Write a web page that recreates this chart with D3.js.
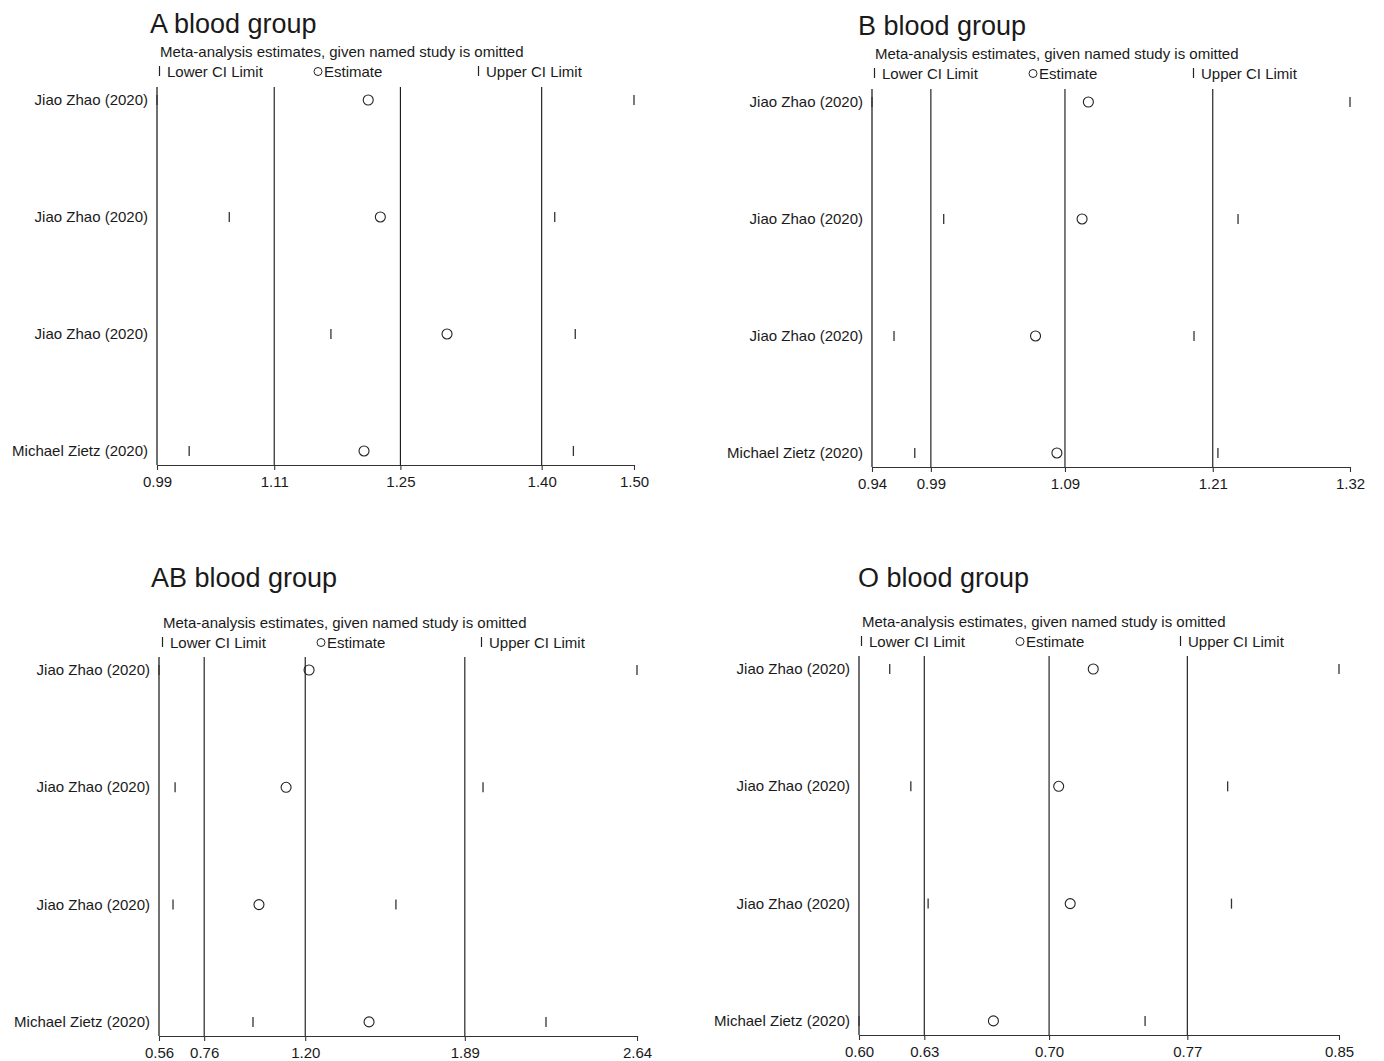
<!DOCTYPE html>
<html>
<head>
<meta charset="utf-8">
<script src="https://cdn.jsdelivr.net/npm/d3@7"></script>
<style>
  html, body { margin: 0; padding: 0; background: #fff; }
  svg { display: block; font-family: "Liberation Sans", Arial, Helvetica, sans-serif; }
</style>
</head>
<body>
<svg id="chart" width="1384" height="1061"></svg>
<script>
// ---------------- data ----------------
const studies = ["Jiao Zhao (2020)", "Jiao Zhao (2020)", "Jiao Zhao (2020)", "Michael Zietz (2020)"];
const titles = ["A blood group", "B blood group", "AB blood group", "O blood group"];
const subtitle = "Meta-analysis estimates, given named study is omitted";
const legendLabels = ["Lower CI Limit", "Estimate", "Upper CI Limit"];

const lowerA = [0.9875, 1.065, 1.174, 1.022];
const estA   = [1.214, 1.227, 1.2985, 1.2095];
const upperA = [1.499, 1.414, 1.436, 1.434];
const overallA = [1.1132, 1.2485, 1.400];
const tickLabelsA = ["0.99", "1.11", "1.25", "1.40", "1.50"];

const lowerB = [0.940, 0.997, 0.9575, 0.974];
const estB   = [1.112, 1.107, 1.070, 1.087];
const upperB = [1.320, 1.231, 1.196, 1.215];
const overallB = [0.9868, 1.0934, 1.2109];
const tickLabelsB = ["0.94", "0.99", "1.09", "1.21", "1.32"];

const lowerAB = [0.560, 0.630, 0.621, 0.969];
const estAB   = [1.213, 1.113, 0.995, 1.474];
const upperAB = [2.640, 1.970, 1.591, 2.244];
const overallAB = [0.7566, 1.1963, 1.8908];
const tickLabelsAB = ["0.56", "0.76", "1.20", "1.89", "2.64"];

const lowerO = [0.616, 0.627, 0.636, 0.600];
const estO   = [0.722, 0.704, 0.710, 0.670];
const upperO = [0.850, 0.792, 0.794, 0.749];
const overallO = [0.634, 0.699, 0.771];
const tickLabelsO = ["0.60", "0.63", "0.70", "0.77", "0.85"];

// ---------------- layout (positions only) ----------------
const frames = [
  {x0:157, x1:634,  top:87,  bottom:465,  titleX:150, titleY:33,  subX:160, subY:57,  legX:158, legY:77},
  {x0:872, x1:1350, top:89,  bottom:467,  titleX:858, titleY:35,  subX:875, subY:59,  legX:873, legY:79},
  {x0:159, x1:637,  top:657, bottom:1036, titleX:151, titleY:587, subX:163, subY:628, legX:161, legY:648},
  {x0:859, x1:1339, top:656, bottom:1035, titleX:858, titleY:587, subX:862, subY:627, legX:860, legY:647}
];

const panels = [
  {lower: lowerA,  est: estA,  upper: upperA,  overall: overallA,  ticks: tickLabelsA},
  {lower: lowerB,  est: estB,  upper: upperB,  overall: overallB,  ticks: tickLabelsB},
  {lower: lowerAB, est: estAB, upper: upperAB, overall: overallAB, ticks: tickLabelsAB},
  {lower: lowerO,  est: estO,  upper: upperO,  overall: overallO,  ticks: tickLabelsO}
];

const svg = d3.select("#chart");
const ink = "#1a1a1a";

panels.forEach((p, i) => {
  const f = frames[i];
  const g = svg.append("g");
  const lo = d3.min(p.lower), hi = d3.max(p.upper);
  const x = d3.scaleLinear().domain([lo, hi]).range([f.x0, f.x1]);
  const y = d3.scaleLinear().domain([0.889, 4.12]).range([f.top, f.bottom]);

  // title & subtitle
  g.append("text").attr("x", f.titleX).attr("y", f.titleY)
    .attr("font-size", 27).attr("fill", ink).text(titles[i]);
  g.append("text").attr("x", f.subX).attr("y", f.subY)
    .attr("font-size", 15).attr("fill", ink).text(subtitle);

  // legend
  const lg = g.append("g").attr("transform", `translate(${f.legX},${f.legY})`);
  lg.append("line").attr("x1", 1.5).attr("x2", 1.5).attr("y1", -11).attr("y2", -1)
    .attr("stroke", "#222").attr("stroke-width", 1.2);
  lg.append("text").attr("x", 9).attr("y", 0).attr("font-size", 15).attr("fill", ink).text(legendLabels[0]);
  lg.append("circle").attr("cx", 160).attr("cy", -5.5).attr("r", 4)
    .attr("fill", "none").attr("stroke", "#222").attr("stroke-width", 1);
  lg.append("text").attr("x", 166).attr("y", 0).attr("font-size", 15).attr("fill", ink).text(legendLabels[1]);
  lg.append("line").attr("x1", 320.5).attr("x2", 320.5).attr("y1", -11).attr("y2", -1)
    .attr("stroke", "#222").attr("stroke-width", 1.2);
  lg.append("text").attr("x", 328).attr("y", 0).attr("font-size", 15).attr("fill", ink).text(legendLabels[2]);

  // overall reference lines
  g.selectAll("line.ref").data(p.overall).join("line").attr("class", "ref")
    .attr("x1", d => x(d)).attr("x2", d => x(d))
    .attr("y1", f.top).attr("y2", f.bottom)
    .attr("stroke", "#111").attr("stroke-width", 1.1);

  // left axis line
  g.append("line").attr("x1", f.x0).attr("x2", f.x0).attr("y1", f.top).attr("y2", f.bottom)
    .attr("stroke", "#111").attr("stroke-width", 1.2);

  // study labels
  g.selectAll("text.study").data(studies).join("text").attr("class", "study")
    .attr("x", f.x0 - 9).attr("y", (d, k) => y(k + 1) + 5)
    .attr("text-anchor", "end").attr("font-size", 15).attr("fill", ink).text(d => d);

  // markers
  const rows = studies.map((s, k) => ({k: k + 1, lo: p.lower[k], est: p.est[k], hi: p.upper[k]}));
  g.selectAll("line.lo").data(rows).join("line").attr("class", "lo")
    .attr("x1", d => x(d.lo)).attr("x2", d => x(d.lo))
    .attr("y1", d => y(d.k) - 5).attr("y2", d => y(d.k) + 5)
    .attr("stroke", "#333").attr("stroke-width", 1.3);
  g.selectAll("line.hi").data(rows).join("line").attr("class", "hi")
    .attr("x1", d => x(d.hi)).attr("x2", d => x(d.hi))
    .attr("y1", d => y(d.k) - 5).attr("y2", d => y(d.k) + 5)
    .attr("stroke", "#333").attr("stroke-width", 1.3);
  g.selectAll("circle.est").data(rows).join("circle").attr("class", "est")
    .attr("cx", d => x(d.est)).attr("cy", d => y(d.k)).attr("r", 5)
    .attr("fill", "none").attr("stroke", "#222").attr("stroke-width", 1.1);

  // x axis
  const tickVals = [lo, p.overall[0], p.overall[1], p.overall[2], hi];
  const axis = d3.axisBottom(x).tickValues(tickVals)
    .tickFormat((d, k) => p.ticks[k]).tickSizeInner(5).tickSizeOuter(0).tickPadding(6);
  const ax = g.append("g").attr("transform", `translate(0,${f.bottom})`).call(axis);
  ax.select(".domain").attr("stroke", "#333").attr("stroke-width", 1.2);
  ax.selectAll(".tick line").attr("stroke", "#333").attr("stroke-width", 1.1);
  ax.selectAll(".tick text").attr("font-size", 15).attr("fill", ink)
    .attr("font-family", "'Liberation Sans', Arial, sans-serif");
});
</script>
</body>
</html>
